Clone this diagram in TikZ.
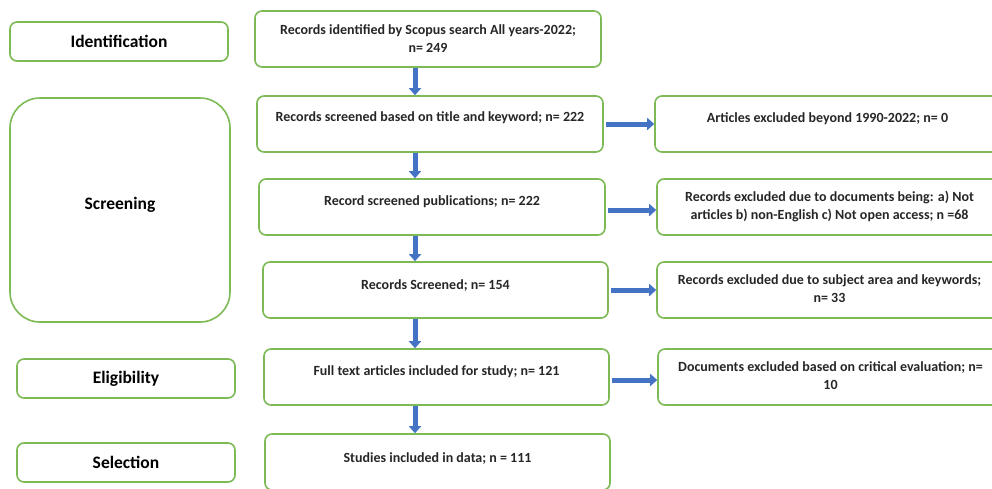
\documentclass[tikz,border=0pt]{standalone}
\usepackage{fontspec}
\setmainfont{Carlito}
\usetikzlibrary{arrows.meta}
\definecolor{boxgreen}{RGB}{125,185,85}
\definecolor{arrblue}{RGB}{68,114,196}
\tikzset{
  box/.style={draw=boxgreen, line width=1.6pt, rounded corners=7pt, rectangle, inner sep=0pt},
  stage/.style={box, font=\bfseries\fontsize{17.5}{20}\selectfont},
  txt/.style={align=center, inner sep=0pt, font=\bfseries\fontsize{14}{18}\selectfont, text=black!85},
  arr/.style={draw=arrblue, line width=5pt, -{Triangle[width=12pt,length=7pt]}}
}
\begin{document}
\begin{tikzpicture}[x=1pt,y=-1pt]
\useasboundingbox (0,0) rectangle (992,488);
\clip (0,0) rectangle (992,488);
% stage labels
\node[stage, minimum width=218, minimum height=39] (ident) at (119,41.5) {Identification};
\node[box, rounded corners=30pt, minimum width=220, minimum height=224] (screen) at (120,210) {};
\node[font=\bfseries\fontsize{17.5}{20}\selectfont] (screentxt) at (120,205) {Screening};
\node[stage, minimum width=218, minimum height=39] (elig) at (126,378.5) {Eligibility};
\node[stage, minimum width=218, minimum height=39] (sel) at (126,462.5) {Selection};
% main column
\node[box, minimum width=346, minimum height=56] (b1) at (428,39) {};
\node[txt] (t1) at (428,39) {Records identified by Scopus search All years-2022;\\n= 249};
\node[box, minimum width=346, minimum height=56] (b2) at (430,124) {};
\node[txt] (t2) at (430,118) {Records screened based on title and keyword; n= 222};
\node[box, minimum width=346, minimum height=56] (b3) at (432,207) {};
\node[txt] (t3) at (432,202) {Record screened publications; n= 222};
\node[box, minimum width=345, minimum height=56] (b4) at (435.5,290) {};
\node[txt] (t4) at (435.5,286) {Records Screened; n= 154};
\node[box, minimum width=345, minimum height=56] (b5) at (436.5,377) {};
\node[txt] (t5) at (436.5,372) {Full text articles included for study; n= 121};
\node[box, minimum width=345, minimum height=56] (b6) at (437.5,462) {};
\node[txt] (t6) at (437.5,459) {Studies included in data; n = 111};
% right column
\node[box, minimum width=345, minimum height=56] (r1) at (827.5,124) {};
\node[txt] (u1) at (827.5,119) {Articles excluded beyond 1990-2022; n= 0};
\node[box, minimum width=345, minimum height=56] (r2) at (829.5,207) {};
\node[txt] (u2) at (829.5,206) {Records excluded due to documents being: a) Not\\articles b) non-English c) Not open access; n =68};
\node[box, minimum width=345, minimum height=56] (r3) at (829.5,290) {};
\node[txt] (u3) at (829.5,289) {Records excluded due to subject area and keywords;\\n= 33};
\node[box, minimum width=345, minimum height=56] (r4) at (830.5,377) {};
\node[txt] (u4) at (830.5,376) {Documents excluded based on critical evaluation; n=\\10};
% arrows
\coordinate (ax) at (415,0);
\draw[arr] (b1.south -| ax) -- (b2.north -| ax);
\draw[arr] (b2.south -| ax) -- (b3.north -| ax);
\draw[arr] (b3.south -| ax) -- (b4.north -| ax);
\draw[arr] (b4.south -| ax) -- (b5.north -| ax);
\draw[arr] (b5.south -| ax) -- (b6.north -| ax);
\draw[arr] ([xshift=2pt]b2.east) -- (r1.west);
\draw[arr] ([xshift=2pt,yshift=-3pt]b3.east) -- ([yshift=-3pt]r2.west);
\draw[arr] ([xshift=2pt]b4.east) -- (r3.west);
\draw[arr] ([xshift=2pt,yshift=-3pt]b5.east) -- ([yshift=-3pt]r4.west);
\end{tikzpicture}
\end{document}
